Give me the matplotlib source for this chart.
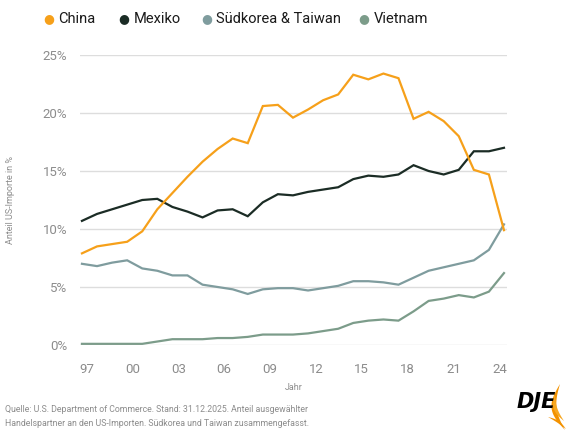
import matplotlib
matplotlib.use("Agg")
import matplotlib.pyplot as plt
import numpy as np
from matplotlib.patches import Polygon

# Anteil an den US-Importen in %, 29 Jahreswerte
china = [7.9, 8.5, 8.7, 8.9, 9.8, 11.7, 13.1, 14.5, 15.8, 16.9, 17.8, 17.4, 20.6, 20.7,
         19.6, 20.3, 21.1, 21.6, 23.3, 22.9, 23.4, 23.0, 19.5, 20.1, 19.3, 18.0, 15.1,
         14.7, 9.9]
mexiko = [10.7, 11.3, 11.7, 12.1, 12.5, 12.6, 11.9, 11.5, 11.0, 11.6, 11.7, 11.1, 12.3,
          13.0, 12.9, 13.2, 13.4, 13.6, 14.3, 14.6, 14.5, 14.7, 15.5, 15.0, 14.7, 15.1,
          16.7, 16.7, 17.0]
korea_taiwan = [7.0, 6.8, 7.1, 7.3, 6.6, 6.4, 6.0, 6.0, 5.2, 5.0, 4.8, 4.4, 4.8, 4.9,
                4.9, 4.7, 4.9, 5.1, 5.5, 5.5, 5.4, 5.2, 5.8, 6.4, 6.7, 7.0, 7.3, 8.2, 10.4]
vietnam = [0.1, 0.1, 0.1, 0.1, 0.1, 0.3, 0.5, 0.5, 0.5, 0.6, 0.6, 0.7, 0.9, 0.9, 0.9,
           1.0, 1.2, 1.4, 1.9, 2.1, 2.2, 2.1, 2.9, 3.8, 4.0, 4.3, 4.1, 4.6, 6.2]
tick_labels = ["97", "00", "03", "06", "09", "12", "15", "18", "21", "24"]
y_ticks = [0, 5, 10, 15, 20, 25]

series = [
    ("China", china, "#f6a01a"),
    ("Mexiko", mexiko, "#1b2c25"),
    ("Südkorea & Taiwan", korea_taiwan, "#7f9c9e"),
    ("Vietnam", vietnam, "#7c9c8a"),
]

plt.rcParams["font.family"] = ["Roboto", "DejaVu Sans"]
grey = "#8c8c8c"
W, H = 576, 432


def fx(px):
    return px / W


def fy(py):
    return 1 - py / H


fig = plt.figure(figsize=(5.76, 4.32), dpi=100)
ax = fig.add_axes([fx(80), fy(345), 427 / W, 290 / H])

x = np.arange(len(china))
for name, values, color in series[::-1]:
    ax.plot(x, values, color=color, lw=1.6, solid_joinstyle="miter",
            clip_on=False, zorder=3)

ax.set_xlim(-0.13, len(china) - 1 + 0.2)
ax.set_ylim(0, 25)
ax.set_yticks(y_ticks)
ax.set_yticklabels([f"{v}%" for v in y_ticks])
ax.set_xticks(np.linspace(0.3, 27.7, len(tick_labels)))
ax.set_xticklabels(tick_labels)
ax.tick_params(axis="both", length=0, colors=grey, labelsize=9.5)
ax.tick_params(axis="y", pad=9)
ax.tick_params(axis="x", pad=13)
ax.grid(axis="y", color="#dddddd", lw=1)
ax.set_axisbelow(True)
for s in ax.spines.values():
    s.set_visible(False)

ax.set_xlabel("Jahr", fontsize=6.5, color=grey, labelpad=5)
fig.text(fx(11), fy(200), "Anteil US-Importe in %", rotation=90,
         fontsize=6.5, color=grey, ha="center", va="center")

# legend, placed item by item like the original
legend_x = [49, 124, 207, 364]
for (name, _, color), lx in zip(series, legend_x):
    fig.text(fx(lx), fy(19), "\u25CF", color=color, fontsize=9,
             ha="center", va="center", family=["DejaVu Sans"])
    fig.text(fx(lx + 9.5), fy(19), name, color="#1a1a1a", fontsize=10.5,
             ha="left", va="center")

fig.text(fx(5), fy(410),
         "Quelle: U.S. Department of Commerce. Stand: 31.12.2025. Anteil ausgewählter",
         fontsize=6.3, color=grey, va="center")
fig.text(fx(5), fy(423),
         "Handelspartner an den US-Importen. Südkorea und Taiwan zusammengefasst.",
         fontsize=6.3, color=grey, va="center")

# DJE logo
fig.text(fx(517), fy(402), "DJE", fontsize=15, fontweight="heavy",
         style="italic", color="black", va="center", ha="left",
         family=["DejaVu Sans"])


def crescent(p0, p1, bulge_out, bulge_in):
    t = np.linspace(0, 1, 30)
    p0, p1 = np.array(p0, float), np.array(p1, float)
    d = p1 - p0
    n = np.array([d[1], -d[0]]) / np.hypot(*d)
    base = p0 + np.outer(t, d)
    outer = base - np.outer(np.sin(np.pi * t) * bulge_out, n)
    inner = base - np.outer(np.sin(np.pi * t) * bulge_in, n)
    pts = np.vstack([outer, inner[::-1]])
    return [[fx(a), fy(b)] for a, b in pts]


for pts, col in [
    (crescent((560, 384), (565, 430), 11, 6), "#f39200"),
    (crescent((555, 393), (564, 421), 6, 2.5), "#f7a823"),
    (crescent((548, 417), (566, 429), -2.5, -0.5), "#f39200"),
]:
    fig.patches.append(Polygon(pts, closed=True, transform=fig.transFigure,
                               color=col, lw=0))

fig.savefig("out.png", dpi=100)
